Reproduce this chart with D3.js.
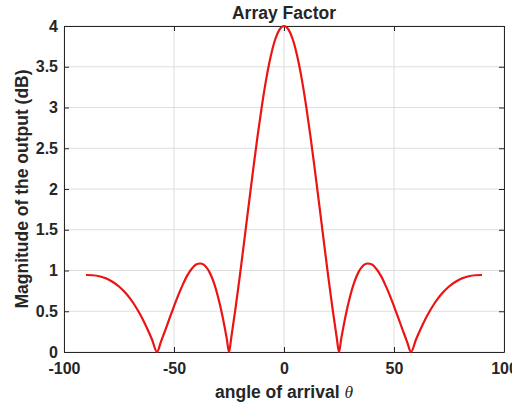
<!DOCTYPE html>
<html><head><meta charset="utf-8">
<script src="https://cdn.jsdelivr.net/npm/d3@7"></script>
<style>body{margin:0;background:#fff}svg{display:block}text{font-family:"Liberation Sans",Arial,sans-serif;font-weight:bold;fill:#262626}</style>
</head><body><div id="chart"></div>
<script>
const angles = [-90,-87,-84,-81,-78,-75,-72,-70,-68,-66,-64,-62,-60,-57.7,-56,-54,-52,-50,-48,-46,-44,-42,-40,-38,-36,-34,-32,-30,-28,-26,-25,-24,-22,-20,-18,-16,-14,-12,-10,-8,-6,-4,-2,0,2,4,6,8,10,12,14,16,18,20,22,24,25,26,28,30,32,34,36,38,40,42,44,46,48,50,52,54,56,57.7,60,62,64,66,68,70,72,75,78,81,84,87,90];
const magnitude = [0.945,0.942,0.93,0.905,0.862,0.804,0.723,0.657,0.58,0.49,0.39,0.277,0.154,0,0.12,0.266,0.415,0.561,0.701,0.827,0.937,1.018,1.073,1.086,1.061,0.986,0.86,0.679,0.446,0.161,0,0.171,0.545,0.95,1.38,1.811,2.241,2.653,3.03,3.361,3.632,3.834,3.958,4,3.958,3.834,3.632,3.361,3.03,2.653,2.241,1.811,1.38,0.95,0.545,0.171,0,0.161,0.446,0.679,0.86,0.986,1.061,1.086,1.073,1.018,0.937,0.827,0.701,0.561,0.415,0.266,0.12,0,0.154,0.277,0.39,0.49,0.58,0.657,0.723,0.804,0.862,0.905,0.93,0.942,0.945];
const xTicks = [-100,-50,0,50,100];
const yTicks = [0,0.5,1,1.5,2,2.5,3,3.5,4];
const title = "Array Factor";
const yLabel = "Magnitude of the output (dB)";

const W = 512, H = 407;
const m = {left:64, right:8, top:26, bottom:55};
const svg = d3.select("#chart").append("svg").attr("width",W).attr("height",H);
const x = d3.scaleLinear().domain([-100,100]).range([m.left, W-m.right]);
const y = d3.scaleLinear().domain([0,4]).range([H-m.bottom, m.top]);

// grid
svg.append("g").selectAll("line").data(xTicks).join("line")
  .attr("x1",d=>x(d)).attr("x2",d=>x(d)).attr("y1",y(0)).attr("y2",y(4))
  .attr("stroke","#dedede").attr("stroke-width",1);
svg.append("g").selectAll("line").data(yTicks).join("line")
  .attr("y1",d=>y(d)).attr("y2",d=>y(d)).attr("x1",x(-100)).attr("x2",x(100))
  .attr("stroke","#dedede").attr("stroke-width",1);

// axes
const fmt = d=>String(d);
const axB = svg.append("g").attr("transform",`translate(0,${y(0)})`)
  .call(d3.axisBottom(x).tickValues(xTicks).tickFormat(fmt).tickSizeInner(-5).tickSizeOuter(0).tickPadding(11));
const axT = svg.append("g").attr("transform",`translate(0,${y(4)})`)
  .call(d3.axisTop(x).tickValues(xTicks).tickFormat("").tickSizeInner(-5).tickSizeOuter(0));
const axL = svg.append("g").attr("transform",`translate(${x(-100)},0)`)
  .call(d3.axisLeft(y).tickValues(yTicks).tickFormat(fmt).tickSizeInner(-5).tickSizeOuter(0).tickPadding(6));
const axR = svg.append("g").attr("transform",`translate(${x(100)},0)`)
  .call(d3.axisRight(y).tickValues(yTicks).tickFormat("").tickSizeInner(-5).tickSizeOuter(0));
[axB,axT,axL,axR].forEach(g=>{
  g.select(".domain").attr("stroke","#262626").attr("stroke-width",1);
  g.selectAll(".tick line").attr("stroke","#262626");
  g.selectAll("text").attr("font-size",16).attr("font-weight","bold").attr("fill","#262626")
   .attr("font-family","'Liberation Sans',Arial,sans-serif");
});

// line
svg.append("path").datum(angles.map((a,i)=>[a,magnitude[i]]))
  .attr("fill","none").attr("stroke","#ec1313").attr("stroke-width",2.2)
  .attr("d",d3.line().x(d=>x(d[0])).y(d=>y(d[1])).curve(d3.curveMonotoneX));

// titles
svg.append("text").attr("x",x(0)).attr("y",18.5).attr("text-anchor","middle").attr("font-size",17.5).text(title);
const xl = svg.append("text").attr("x",x(0)).attr("y",397.5).attr("text-anchor","middle").attr("font-size",17.5);
xl.append("tspan").text("angle of arrival ");
xl.append("tspan").attr("font-family","'Liberation Serif','Times New Roman',serif").attr("font-style","italic").attr("font-weight","normal").text("θ");
svg.append("text").attr("transform",`translate(28,${y(2)}) rotate(-90)`).attr("text-anchor","middle").attr("font-size",17.5).text(yLabel);
</script></body></html>
